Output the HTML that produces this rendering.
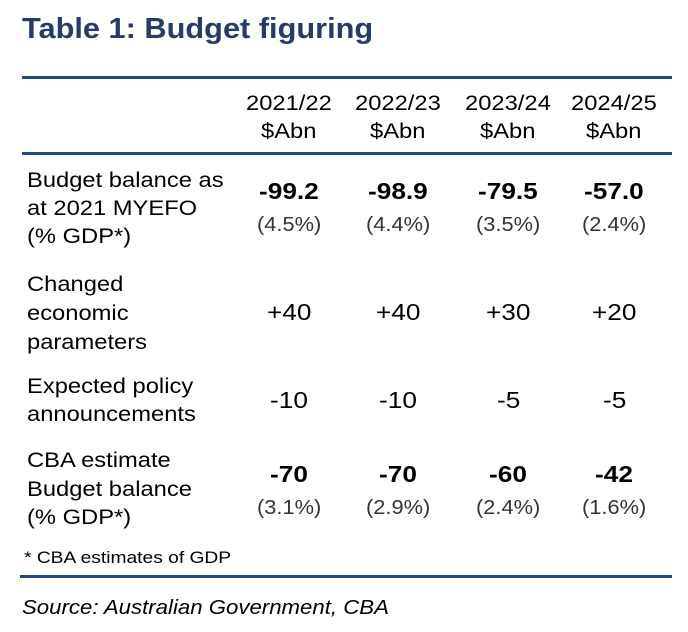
<!DOCTYPE html>
<html><head><meta charset="utf-8"><style>
body{margin:0;width:688px;height:632px;background:#fff;position:relative;font-family:"Liberation Sans",Arial,sans-serif;color:#000;overflow:hidden}
.t{position:absolute;line-height:1;white-space:nowrap;transform-origin:0 0}
.rule{position:absolute;background:#23497c}
.lab{font-size:21px;transform:scaleX(1.13)}
.yr{font-size:21px;transform:translateX(-50%) scaleX(1.13)}
.num{font-size:23px;transform:translateX(-50%) scaleX(1.14)}
.b{font-weight:bold}
.pct{font-size:20px;color:#333;transform:translateX(-50%) scaleX(1.09)}
.yr,.num,.pct{transform-origin:0 0}
</style></head><body>
<div class="t b" style="left:22px;top:15px;font-size:29px;color:#263c68;transform:scaleX(1.06)">Table 1: Budget figuring</div>
<div class="rule" style="left:22px;top:76px;width:650px;height:3px"></div>
<div class="rule" style="left:22px;top:152px;width:650px;height:3px"></div>
<div class="rule" style="left:20px;top:575px;width:652px;height:3px"></div>
<div class="t" style="left:24px;top:549px;font-size:17px;transform:scaleX(1.13)">* CBA estimates of GDP</div>
<div class="t" style="left:22px;top:598px;font-size:20px;font-style:italic;transform:scaleX(1.11)">Source: Australian Government, CBA</div>
<script>
const years=["2021/22","2022/23","2023/24","2024/25"];
const budgetMyefo=["-99.2","-98.9","-79.5","-57.0"];
const budgetMyefoPct=["(4.5%)","(4.4%)","(3.5%)","(2.4%)"];
const econParams=["+40","+40","+30","+20"];
const policy=["-10","-10","-5","-5"];
const cbaEst=["-70","-70","-60","-42"];
const cbaPct=["(3.1%)","(2.9%)","(2.4%)","(1.6%)"];
const colX=[289,398,508,614];
function add(txt,x,base,cls,size,name){
  const d=document.createElement('div');
  d.className='t '+cls;
  d.textContent=txt;
  d.style.left=x+'px';
  d.style.top=(base-0.83*size)+'px';
  
  
  document.body.appendChild(d);
  if(cls!=='lab'){
    const w=d.offsetWidth;
    const s=cls.indexOf('num')>=0?1.14:(cls==='pct'?1.09:1.13);
    d.style.transform='scaleX('+s+')';
    d.style.left=(x-w*s/2)+'px';
  }
}
years.forEach((y,i)=>{add(y,colX[i],110,'yr',21,'column-year');add('$Abn',colX[i],138,'yr',21,'column-unit');});
[["Budget balance as",187],["at 2021 MYEFO",215],["(% GDP*)",243],["Changed",291],["economic",320],["parameters",349],["Expected policy",393],["announcements",421],["CBA estimate",467],["Budget balance",496],["(% GDP*)",524]].forEach(l=>add(l[0],27,l[1],'lab',21,'row-label'));
budgetMyefo.forEach((v,i)=>add(v,colX[i],199,'num b',23,'myefo-balance'));
budgetMyefoPct.forEach((v,i)=>add(v,colX[i],232,'pct',20,'myefo-pct-gdp'));
econParams.forEach((v,i)=>add(v,colX[i],320,'num',23,'econ-parameters'));
policy.forEach((v,i)=>add(v,colX[i],408,'num',23,'policy-announcements'));
cbaEst.forEach((v,i)=>add(v,colX[i],482,'num b',23,'cba-estimate'));
cbaPct.forEach((v,i)=>add(v,colX[i],515,'pct',20,'cba-pct-gdp'));
</script>
</body></html>
